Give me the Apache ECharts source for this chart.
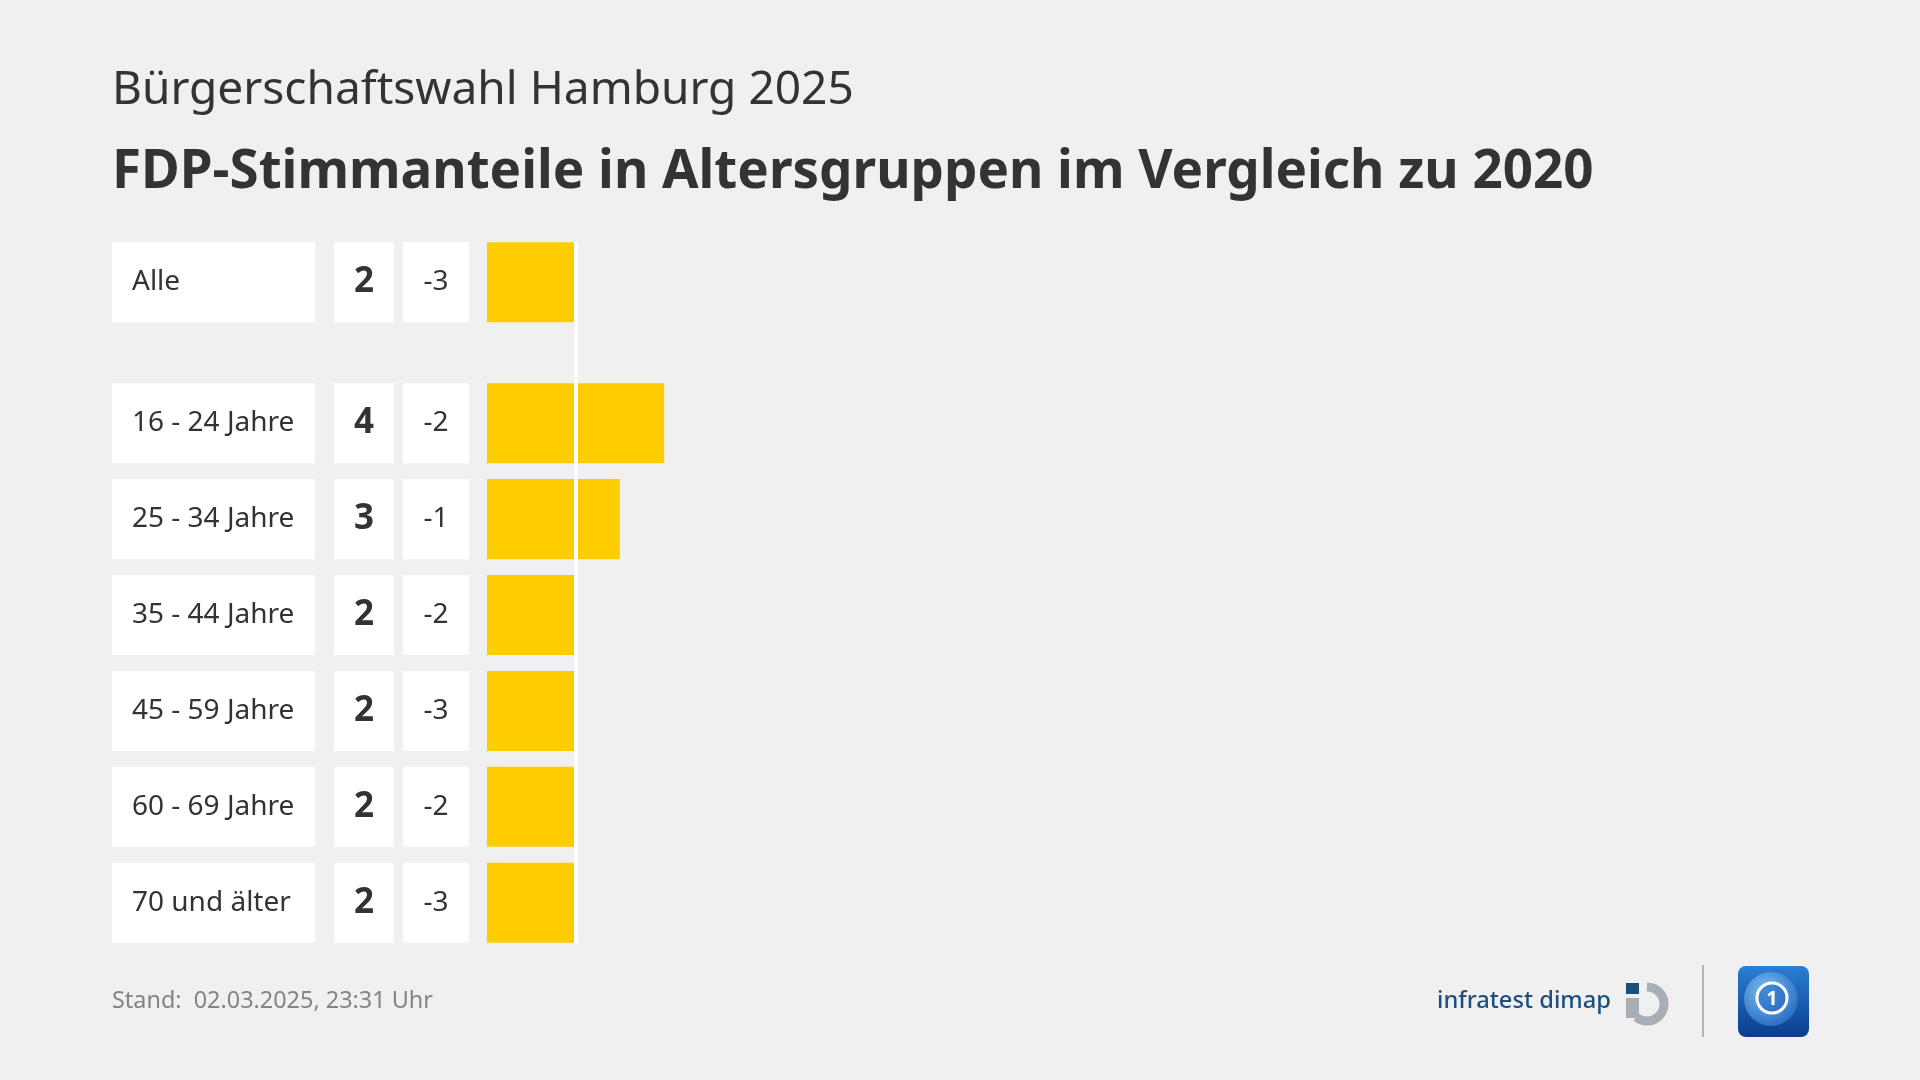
<!DOCTYPE html>
<html>
<head>
<meta charset="utf-8">
<script src="https://cdn.jsdelivr.net/npm/echarts@6/dist/echarts.min.js"></script>
<style>
  html, body { margin: 0; padding: 0; background: #f0f0f0; }
  #chart { width: 1920px; height: 1080px; }
</style>
</head>
<body>
<div id="chart"></div>
<script>
// ---- data ----
const supertitle = 'Bürgerschaftswahl Hamburg 2025';
const titleText = 'FDP-Stimmanteile in Altersgruppen im Vergleich zu 2020';
const footerText = 'Stand:  02.03.2025, 23:31 Uhr';
const categories = ['Alle', '16 - 24 Jahre', '25 - 34 Jahre', '35 - 44 Jahre', '45 - 59 Jahre', '60 - 69 Jahre', '70 und älter'];
const shares = [2, 4, 3, 2, 2, 2, 2];
const diffs = [-3, -2, -1, -2, -3, -2, -3];

// ---- layout helpers ----
const FONT = '"Noto Sans", sans-serif';
const TEXT = '#333333';
const BAR = '#ffcc00';
function fitSize(text, weight, target) {
  const c = document.createElement('canvas').getContext('2d');
  c.font = weight + ' 100px "Noto Sans"';
  return 100 * target / c.measureText(text).width;
}
// row slot: the "Alle" row is separated from the age groups by an extra gap
function rowPos(i) { return i === 0 ? 0 : i + 0.47; }
const rowData = categories.map((c, i) => [shares[i], rowPos(i), i]);
const BAR_UNITS = 0.835;

const chart = echarts.init(document.getElementById('chart'), null, { renderer: 'canvas' });

function renderBar(params, api) {
  const v = api.value(0), p = api.value(1);
  const s = api.coord([0, p]);
  const e = api.coord([v, p]);
  const h = api.size([0, BAR_UNITS])[1];
  return {
    type: 'rect',
    shape: { x: s[0], y: s[1] - h / 2, width: e[0] - s[0], height: h },
    style: { fill: BAR }
  };
}

function renderTable(params, api) {
  const p = api.value(1);
  const i = api.value(2);
  const s = api.coord([0, p]);
  const h = api.size([0, BAR_UNITS])[1];
  const x0 = s[0], y = s[1];
  const top = y - h / 2;
  return {
    type: 'group',
    children: [
      { type: 'rect', shape: { x: x0 - 375, y: top, width: 203, height: h }, style: { fill: '#ffffff' } },
      { type: 'rect', shape: { x: x0 - 153, y: top, width: 60, height: h }, style: { fill: '#ffffff' } },
      { type: 'rect', shape: { x: x0 - 84, y: top, width: 66, height: h }, style: { fill: '#ffffff' } },
      { type: 'text', x: x0 - 355, y: y, style: { text: categories[i], font: '400 28px ' + FONT, fill: TEXT, align: 'left', verticalAlign: 'middle' } },
      { type: 'text', x: x0 - 123, y: y, style: { text: String(shares[i]), font: '700 35px ' + FONT, fill: TEXT, align: 'center', verticalAlign: 'middle' } },
      { type: 'text', x: x0 - 51, y: y, style: { text: String(diffs[i]), font: '400 28px ' + FONT, fill: TEXT, align: 'center', verticalAlign: 'middle' } }
    ]
  };
}

const subSize = fitSize(supertitle, 400, 742);
const titleSize = fitSize(titleText, 700, 1482);
const footSize = fitSize(footerText, 400, 321);
const logoSize = fitSize('infratest dimap', 500, 174);

const option = {
  backgroundColor: '#f0f0f0',
  animation: false,
  grid: { left: 487, top: 242, width: 1329, height: 701 },
  xAxis: { type: 'value', min: 0, max: 30, show: false },
  yAxis: { type: 'value', inverse: true, min: -0.42, max: 6.89, show: false },
  series: [
    { type: 'custom', data: rowData, renderItem: renderTable, clip: false, z: 2, silent: true },
    { type: 'custom', data: rowData, renderItem: renderBar, clip: false, z: 3, silent: true },
    {
      type: 'line', data: [], z: 10, silent: true,
      markLine: {
        silent: true, symbol: ['none', 'none'],
        label: { show: false },
        lineStyle: { color: '#ffffff', width: 4, type: 'solid' },
        data: [{ xAxis: shares[0] }]
      }
    }
  ],
  graphic: [
    { type: 'text', left: 112, top: 117 - subSize * 1.07, style: { text: supertitle, font: '400 ' + subSize + 'px ' + FONT, fill: TEXT } },
    { type: 'text', left: 112, top: 203 - titleSize * 1.07, style: { text: titleText, font: '700 ' + titleSize + 'px ' + FONT, fill: TEXT } },
    { type: 'text', x: 112, y: 1001, style: { text: footerText, font: '400 ' + footSize + 'px ' + FONT, fill: '#848484', verticalAlign: 'middle' } },
    // infratest dimap logo
    { type: 'text', x: 1437, y: 1001, style: { text: 'infratest dimap', font: '500 ' + logoSize + 'px ' + FONT, fill: '#1d4f7c', verticalAlign: 'middle' } },
    { type: 'rect', shape: { x: 1626, y: 983, width: 13, height: 11 }, style: { fill: '#1d4f7c' } },
    { type: 'rect', shape: { x: 1626, y: 998, width: 13, height: 20 }, style: { fill: '#a7aeb5' } },
    { type: 'arc', shape: { cx: 1647, cy: 1004, r: 17, startAngle: -Math.PI / 2, endAngle: Math.PI * 0.72, clockwise: true }, style: { stroke: '#a7aeb5', lineWidth: 9, fill: null } },
    // divider
    { type: 'rect', shape: { x: 1702, y: 965, width: 2, height: 72 }, style: { fill: '#b5b5b5' } },
    // tagesschau logo
    { type: 'rect', shape: { x: 1738, y: 966, width: 71, height: 71, r: 8 },
      style: { fill: new echarts.graphic.LinearGradient(0, 0, 0, 1, [{ offset: 0, color: '#2a7fd4' }, { offset: 1, color: '#0b3c8c' }]) } },
    { type: 'circle', shape: { cx: 1771, cy: 999, r: 27 },
      style: { fill: new echarts.graphic.RadialGradient(0.4, 0.35, 0.8, [{ offset: 0, color: '#7cc0f2' }, { offset: 1, color: '#1a5fb8' }]) } },
    { type: 'circle', shape: { cx: 1772, cy: 998, r: 15 }, style: { stroke: '#ffffff', lineWidth: 3, fill: 'rgba(30,100,190,0.6)' } },
    { type: 'text', x: 1772, y: 999, style: { text: '1', font: '700 20px ' + FONT, fill: '#ffffff', align: 'center', verticalAlign: 'middle' } }
  ]
};
chart.setOption(option);
</script>
</body>
</html>
